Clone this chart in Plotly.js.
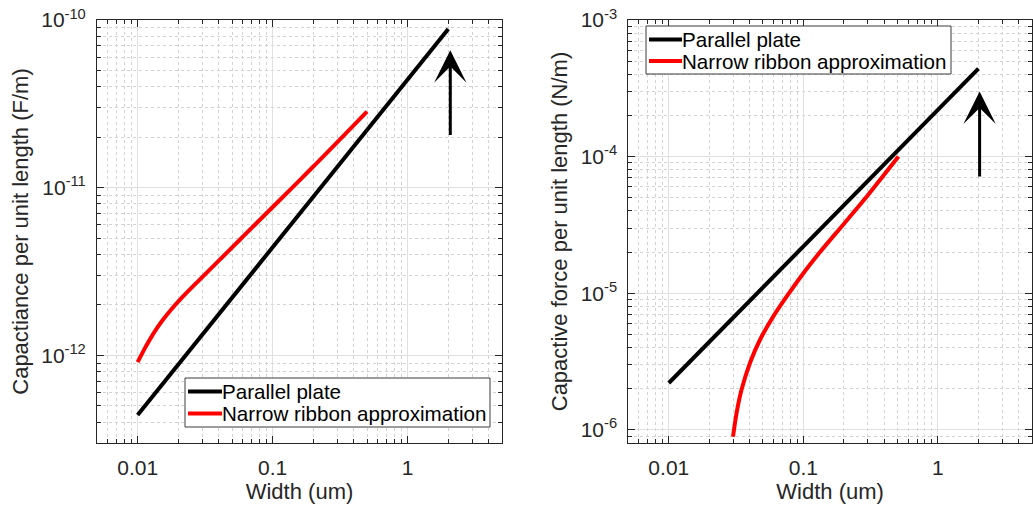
<!DOCTYPE html>
<html>
<head>
<meta charset="utf-8">
<script src="https://cdn.plot.ly/plotly-3.0.1.min.js"></script>
<style>
html,body{margin:0;padding:0;background:#fff;}
#chart{width:1033px;height:510px;}
</style>
</head>
<body>
<div id="chart"></div>
<script>
// ---- Data ----
const seriesNames = ['Parallel plate', 'Narrow ribbon approximation'];
const seriesColors = ['#000000', '#ff0000'];

// Left panel: capacitance per unit length (F/m) vs width (um)
const capPlateWidth = [0.01, 0.1, 1, 2];
const capPlateValue = [4.4e-13, 4.4e-12, 4.4e-11, 8.85e-11];
const capRibbonWidth = [0.01, 0.0113, 0.0123, 0.0139, 0.0155, 0.0178, 0.0206, 0.0274, 0.0386, 0.0574, 0.0855, 0.151, 0.213, 0.299, 0.5];
const capRibbonValue = [9.1e-13, 1.10e-12, 1.241e-12, 1.451e-12, 1.641e-12, 1.884e-12, 2.149e-12, 2.716e-12, 3.57e-12, 4.91e-12, 6.75e-12, 1.064e-11, 1.406e-11, 1.855e-11, 2.84e-11];

// Right panel: capacitive force per unit length (N/m) vs width (um)
const forcePlateWidth = [0.01, 0.1, 1, 2];
const forcePlateValue = [2.2e-6, 2.2e-5, 2.2e-4, 4.4e-4];
const forceRibbonWidth = [0.03, 0.0319, 0.0347, 0.0401, 0.0476, 0.0598, 0.0752, 0.1, 0.133, 0.199, 0.296, 0.509];
const forceRibbonValue = [8.9e-7, 1.33e-6, 1.96e-6, 3.08e-6, 4.56e-6, 6.76e-6, 9.46e-6, 1.40e-5, 2.0e-5, 3.2e-5, 5.1e-5, 1.0e-4];

// Tick labels
const xTickVals = [0.01, 0.1, 1];
const xTickText = ['0.01', '0.1', '1'];
const capTickVals = [1e-12, 1e-11, 1e-10];
const capTickText = ['10<sup>-12</sup>', '10<sup>-11</sup>', '10<sup>-10</sup>'];
const forceTickVals = [1e-6, 1e-5, 1e-4, 1e-3];
const forceTickText = ['10<sup>-6</sup>', '10<sup>-5</sup>', '10<sup>-4</sup>', '10<sup>-3</sup>'];

// ---- Layout helpers ----
const W = 1033, H = 510, MT = 20, MB = 67;
const PH = H - MT - MB;
const px = v => v / W;                 // pixel x -> paper x
const py = v => (H - MB - v) / PH;     // pixel y -> paper y

function minorLogTicks(lo, hi) {
  const out = [];
  for (let e = lo; e <= hi; e++) {
    for (let m = 2; m <= 9; m++) out.push(m * Math.pow(10, e));
  }
  return out;
}

const FONT = 'Liberation Sans, Arial, Helvetica, sans-serif';
const AX = '#262626';

function xAxis(domain, anchor) {
  return {
    type: 'log', domain: domain, anchor: anchor,
    range: [Math.log10(0.005), Math.log10(5)],
    tickmode: 'array', tickvals: xTickVals, ticktext: xTickText,
    ticks: 'inside', ticklen: 7, tickcolor: AX, tickwidth: 1,
    showline: true, linecolor: AX, linewidth: 1, mirror: 'allticks',
    showgrid: true, gridcolor: '#e0e0e0', gridwidth: 1,
    minor: {tickmode: 'array', tickvals: minorLogTicks(-3, 0), ticks: 'inside', ticklen: 4, tickcolor: AX,
            showgrid: true, gridcolor: '#d2d2d2', griddash: 'dot', gridwidth: 1},
    zeroline: false, automargin: false,
    tickfont: {family: FONT, size: 21, color: AX},
    ticklabelstandoff: 6,
    title: {text: 'Width (um)', font: {family: FONT, size: 22, color: AX}, standoff: 0}
  };
}

function yAxis(anchor, range, vals, text, lo, hi, title) {
  return {
    type: 'log', domain: [0, 1], anchor: anchor,
    range: range,
    tickmode: 'array', tickvals: vals, ticktext: text,
    ticks: 'inside', ticklen: 7, tickcolor: AX, tickwidth: 1,
    showline: true, linecolor: AX, linewidth: 1, mirror: 'allticks',
    showgrid: true, gridcolor: '#e0e0e0', gridwidth: 1,
    minor: {tickmode: 'array', tickvals: minorLogTicks(lo, hi), ticks: 'inside', ticklen: 4, tickcolor: AX,
            showgrid: true, gridcolor: '#d2d2d2', griddash: 'dot', gridwidth: 1},
    zeroline: false, automargin: false,
    tickfont: {family: FONT, size: 21, color: AX},
    ticklabelstandoff: 6,
    title: {text: title, font: {family: FONT, size: 22, color: AX}, standoff: 6}
  };
}

const traces = [
  {x: capPlateWidth, y: capPlateValue, name: seriesNames[0], mode: 'lines',
   line: {color: seriesColors[0], width: 4}, xaxis: 'x', yaxis: 'y', showlegend: false},
  {x: capRibbonWidth, y: capRibbonValue, name: seriesNames[1], mode: 'lines',
   line: {color: seriesColors[1], width: 4, shape: 'spline', smoothing: 1}, xaxis: 'x', yaxis: 'y', showlegend: false},
  {x: forcePlateWidth, y: forcePlateValue, name: seriesNames[0], mode: 'lines',
   line: {color: seriesColors[0], width: 4}, xaxis: 'x2', yaxis: 'y2', showlegend: false},
  {x: forceRibbonWidth, y: forceRibbonValue, name: seriesNames[1], mode: 'lines',
   line: {color: seriesColors[1], width: 4, shape: 'spline', smoothing: 0.8}, xaxis: 'x2', yaxis: 'y2', showlegend: false}
];

// Arrow annotation positions (width in um, value)
const capArrow = {x: 2.07, head: 6.6e-11, tail: 2.02e-11};
const forceArrow = {x: 2.04, head: 2.99e-4, tail: 6.98e-5};

// Legend boxes drawn as shapes + text (pixel boxes: left, top, right, bottom)
const legendBoxes = [
  {box: [185, 378, 490, 427], rows: [391.5, 413.5], lineX: [188, 222]},
  {box: [646, 26, 951, 74], rows: [39.5, 61], lineX: [649, 682]}
];

const shapes = [];
const annotations = [];
legendBoxes.forEach(lb => {
  shapes.push({type: 'rect', xref: 'paper', yref: 'paper',
    x0: px(lb.box[0]), x1: px(lb.box[2]), y0: py(lb.box[3]), y1: py(lb.box[1]),
    line: {color: '#3a3a3a', width: 1}, fillcolor: '#ffffff', layer: 'above'});
  lb.rows.forEach((ry, i) => {
    shapes.push({type: 'line', xref: 'paper', yref: 'paper',
      x0: px(lb.lineX[0]), x1: px(lb.lineX[1]), y0: py(ry), y1: py(ry),
      line: {color: seriesColors[i], width: 4}, layer: 'above'});
    annotations.push({xref: 'paper', yref: 'paper', x: px(lb.lineX[1] - 2), y: py(ry),
      xanchor: 'left', yanchor: 'middle', showarrow: false, text: seriesNames[i],
      font: {family: FONT, size: 20.6, color: '#000000'}});
  });
});

[[capArrow, 'x', 'y'], [forceArrow, 'x2', 'y2']].forEach(([a, xr, yr]) => {
  annotations.push({x: Math.log10(a.x), y: Math.log10(a.head), ax: Math.log10(a.x), ay: Math.log10(a.tail),
    xref: xr, yref: yr, axref: xr, ayref: yr, showarrow: true, text: '',
    arrowhead: 3, arrowsize: 1.8, arrowwidth: 3, arrowcolor: '#000000'});
});

const layout = {
  width: W, height: H,
  margin: {l: 0, r: 0, t: MT, b: MB},
  paper_bgcolor: '#ffffff', plot_bgcolor: '#ffffff',
  showlegend: false,
  xaxis: xAxis([px(97), px(502)], 'y'),
  yaxis: yAxis('x', [Math.log10(3e-13), -10], capTickVals, capTickText, -13, -11,
               'Capactiance per unit length (F/m)'),
  xaxis2: xAxis([px(628.3), px(1032)], 'y2'),
  yaxis2: yAxis('x2', [Math.log10(8e-7), -3], forceTickVals, forceTickText, -7, -4,
               'Capactive force per unit length (N/m)'),
  shapes: shapes,
  annotations: annotations
};

Plotly.newPlot('chart', traces, layout, {displayModeBar: false, staticPlot: true});
</script>
</body>
</html>
